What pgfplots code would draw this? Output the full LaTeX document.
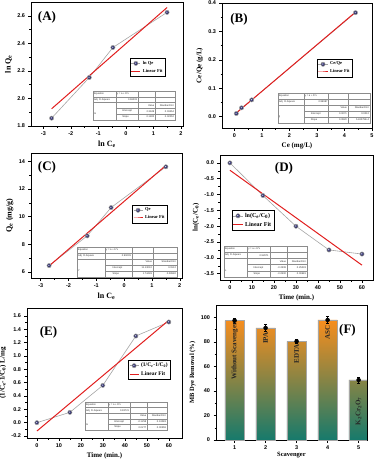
\documentclass[border=0pt]{standalone}
\usepackage{pgfplots}
\pgfplotsset{compat=1.18}
\usepackage{fontspec}
\setmainfont{Liberation Serif}
\setsansfont{Liberation Sans}
\definecolor{navy}{RGB}{30,30,110}
\definecolor{fitred}{RGB}{225,30,30}
\definecolor{dgray}{RGB}{165,165,165}
\definecolor{barO}{RGB}{247,142,30}
\definecolor{barM}{RGB}{234,137,56}
\definecolor{barT}{RGB}{22,122,108}
\pgfplotsset{
 panel/.style={scale only axis, anchor=south west, axis line style={line width=0.6pt},
  tick align=outside, xtick pos=left, ytick pos=left, minor tick num=1,
  major tick length=2.5pt, minor tick length=1.5pt,
  tick style={black, line width=0.5pt}, minor tick style={black, line width=0.4pt},
  ticklabel style={font=\sffamily\bfseries\fontsize{5.5}{6.5}\selectfont},
  xticklabel style={yshift=0.5pt},
  /pgf/number format/assume math mode=true,
  label style={font=\bfseries\fontsize{8}{9}\selectfont},
  every axis x label/.append style={yshift=1.5pt},
  every axis y label/.append style={yshift=-1.5pt},
  legend style={draw=black, line width=0.4pt, font=\bfseries\fontsize{4.5}{5}\selectfont,
   inner sep=0.8pt, row sep=-0.8pt, cells={anchor=west}, anchor=north west},
  legend image code/.code={\draw[mark repeat=2,mark phase=2,##1] plot coordinates {(0cm,0cm) (0.16cm,0cm) (0.32cm,0cm)};}},
 dat/.style={color=dgray, line width=0.6pt, mark=ball, mark size=2.1pt, mark options={ball color=navy, draw=none}},
 fit/.style={color=fitred, line width=1pt, no markers},
 fix1/.style={/pgf/number format/.cd, fixed, fixed zerofill, precision=1},
}
\newcommand\tabfont{\sffamily\fontsize{2.5}{3}\selectfont}
\def\tablab{}
\newcommand\fittab[9]{%
 \begin{scope}[shift={(#1pt,-#2pt)}, x=#3pt, y=#4pt]
 \fill[white] (0,0) rectangle (1,-1);
 \draw[black!45, line width=0.25pt] (0,0) rectangle (1,-1) (0.28,0)--(0.28,-1) (0.55,0)--(0.55,-1) (0.76,0)--(0.76,-1) (0,-0.2)--(1,-0.2) (0,-0.4)--(1,-0.4) (0.28,-0.6)--(1,-0.6) (0.28,-0.8)--(1,-0.8);
 \begin{scope}[every node/.style={font=\tabfont, inner sep=0.4pt, text=black!80}]
 \node[anchor=west] at (0.005,-0.1) {Equation};
 \node[anchor=west] at (0.285,-0.1) {y = a + b*x};
 \node[anchor=west] at (0.005,-0.3) {Adj. R-Square};
 \node[anchor=east] at (0.545,-0.3) {#5};
 \node[anchor=east] at (0.755,-0.5) {Value};
 \node[anchor=east] at (0.995,-0.5) {Standard Err};
 \node[anchor=west] at (0.005,-0.8) {\tablab};
 \node[anchor=west] at (0.35,-0.7) {Intercept};
 \node[anchor=west] at (0.35,-0.9) {Slope};
 \node[anchor=east] at (0.755,-0.7) {#6};
 \node[anchor=east] at (0.995,-0.7) {#7};
 \node[anchor=east] at (0.755,-0.9) {#8};
 \node[anchor=east] at (0.995,-0.9) {#9};
 \end{scope}
 \end{scope}}
\begin{document}
\begin{tikzpicture}
\path[use as bounding box] (0,0) rectangle (375pt,-459pt);
% (A)
\begin{axis}[panel, at={(31pt,-126pt)}, width=152pt, height=124pt,
 xmin=-3.45, xmax=2.08, ymin=1.8, ymax=2.7, xtick={-3,-2,-1,0,1,2}, ytick={1.8,2.0,2.2,2.4,2.6},
 yticklabel style={fix1}, xlabel={ln C\textsubscript{e}}, ylabel={ln Q\textsubscript{e}},
 legend style={at={(0.65,0.548)}}]
\addplot[dat] coordinates {(-2.7,1.857)(-1.33,2.152)(-0.47,2.37)(1.5,2.625)}; \addlegendentry{ln Qe}
\addplot[fit] coordinates {(-2.7,1.925)(1.5,2.66)}; \addlegendentry{Linear Fit}
\end{axis}
% (B)
\begin{axis}[panel, at={(222pt,-128pt)}, width=150pt, height=125pt,
 xmin=-0.45, xmax=5, ymin=-0.04, ymax=0.4, xtick={0,1,2,3,4,5}, ytick={0,0.1,0.2,0.3,0.4},
 yticklabel style={fix1}, xlabel={Ce (mg/L)}, ylabel={Ce/Qe (g/L)},
 label style={font=\bfseries\fontsize{7}{8}\selectfont},
 legend style={at={(0.633,0.552)}}]
\addplot[dat] coordinates {(0.07,0.011)(0.26,0.031)(0.63,0.059)(4.4,0.366)}; \addlegendentry{Ce/Qe}
\addplot[fit] coordinates {(0.07,0.0128)(4.4,0.3679)}; \addlegendentry{Linear Fit}
\end{axis}
% (C)
\begin{axis}[panel, at={(31pt,-278pt)}, width=151pt, height=125pt,
 xmin=-3.35, xmax=2.08, ymin=5.55, ymax=14.6, xtick={-3,-2,-1,0,1,2}, ytick={6,8,10,12,14},
 xlabel={ln C\textsubscript{e}}, ylabel={Q\textsubscript{e} (mg/g)},
 legend style={at={(0.669,0.584)}}]
\addplot[dat] coordinates {(-2.7,6.45)(-1.33,8.6)(-0.47,10.65)(1.5,13.6)}; \addlegendentry{Qe}
\addplot[fit] coordinates {(-2.7,6.42)(1.5,13.7)}; \addlegendentry{Linear Fit}
\end{axis}
% (D)
\begin{axis}[panel, at={(220pt,-280pt)}, width=153pt, height=125pt,
 xmin=-4.5, xmax=65, ymin=-3.7, ymax=0.25, xtick={0,10,20,30,40,50,60}, ytick={-3.5,-3,-2.5,-2,-1.5,-1,-0.5,0},
 yticklabel style={fix1}, xlabel={Time (min.)}, ylabel={ln(C\textsubscript{e}/C\textsubscript{0})},
 label style={font=\bfseries\fontsize{7}{8}\selectfont},
 legend style={at={(0.078,0.56)}, font=\bfseries\fontsize{6}{7}\selectfont}]
\addplot[dat] coordinates {(0,0)(15,-1.03)(30,-2.0)(45,-2.75)(60,-2.88)}; \addlegendentry{ln(C\textsubscript{e}/C\textsubscript{0})}
\addplot[fit] coordinates {(0,-0.2308)(60,-3.2308)}; \addlegendentry{Linear Fit}
\end{axis}
% (E)
\begin{axis}[panel, at={(27pt,-438pt)}, width=155pt, height=130pt,
 xmin=-4.5, xmax=66, ymin=-0.23, ymax=1.72, xtick={0,10,20,30,40,50,60},
 ytick={-0.2,0,0.2,0.4,0.6,0.8,1.0,1.2,1.4,1.6},
 yticklabel style={fix1}, xlabel={Time (min.)}, ylabel={(1/C\textsubscript{e}-1/C\textsubscript{0}) L/mg},
 label style={font=\bfseries\fontsize{7}{8}\selectfont},
 legend style={at={(0.652,0.6)}, font=\bfseries\fontsize{5.5}{6}\selectfont}]
\addplot[dat] coordinates {(0,0)(15,0.155)(30,0.56)(45,1.3)(60,1.51)}; \addlegendentry{(1/C\textsubscript{e}-1/C\textsubscript{0})}
\addplot[fit] coordinates {(0,-0.1258)(60,1.5362)}; \addlegendentry{Linear Fit}
\end{axis}
% (F)
\begin{axis}[panel, at={(216pt,-440pt)}, width=151pt, height=135pt,
 xmin=0.4, xmax=5.27, ymin=0, ymax=110, xtick={1,2,3,4,5}, ytick={0,20,40,60,80,100},
 minor x tick num=0, minor y tick num=1,
 xlabel={Scavenger}, ylabel={MB Dye Removal (\%)},
 xlabel style={yshift=2.5pt},
 label style={font=\bfseries\fontsize{6.5}{7.5}\selectfont}]
\addplot[ybar, bar width=0.63, draw=black!35, line width=0.3pt, top color=barO, middle color=barM, bottom color=barT]
 coordinates {(1,97.3)(2,91.3)(3,80.4)(4,97.8)(5,48.9)};
\addplot[black, only marks, mark=none, error bars/.cd, y dir=both, y explicit,
 error bar style={black, line width=0.35pt}, error mark options={black, rotate=90, mark size=1.3pt, line width=0.35pt}]
 coordinates {(1,97.3) +- (0,2.0) (2,91.3) +- (0,2.7) (3,80.4) +- (0,1.8) (4,97.8) +- (0,2.7) (5,48.9) +- (0,2.7)};
\begin{scope}[every node/.style={rotate=90, anchor=east, font=\bfseries\fontsize{7}{8}\selectfont, text=black!85, inner sep=0pt}]
\node at (axis cs:1,96) {Without Scavenger};
\node at (axis cs:2,88) {IPA};
\node at (axis cs:3,78.3) {EDTA};
\node at (axis cs:4,93.2) {ASC};
\node at (axis cs:5,35) {K\textsubscript{2}Cr\textsubscript{2}O\textsubscript{7}};
\end{scope}
\end{axis}
% tables
\def\tablab{m}\fittab{93}{91}{82}{29}{0.96203}{2.3628}{0.03454}{0.1800}{0.02052}
\def\tablab{lj}\fittab{278}{93}{92}{30}{0.99987}{0.0071}{0.0012}{0.0820}{5.43079E-4}
\def\tablab{Y}\fittab{77}{247}{100}{30}{0.99209}{11.13010}{0.1512}{1.74449}{0.08982}
\def\tablab{L}\fittab{224}{246}{83}{31}{0.92971}{-0.2308}{0.25033}{-0.0500}{0.00681}
\def\tablab{G}\fittab{85}{402}{82}{28}{0.93721}{-0.1258}{0.13083}{0.0277}{0.00358}
% panel labels
\begin{scope}[every node/.style={font=\bfseries\fontsize{13}{13}\selectfont}]
\node at (47pt,-17.5pt) {(A)};
\node at (239pt,-19pt) {(B)};
\node at (47pt,-167.5pt) {(C)};
\node at (284pt,-168.5pt) {(D)};
\node at (48.5pt,-332.5pt) {(E)};
\node at (347.5pt,-330pt) {(F)};
\end{scope}
\end{tikzpicture}
\end{document}
